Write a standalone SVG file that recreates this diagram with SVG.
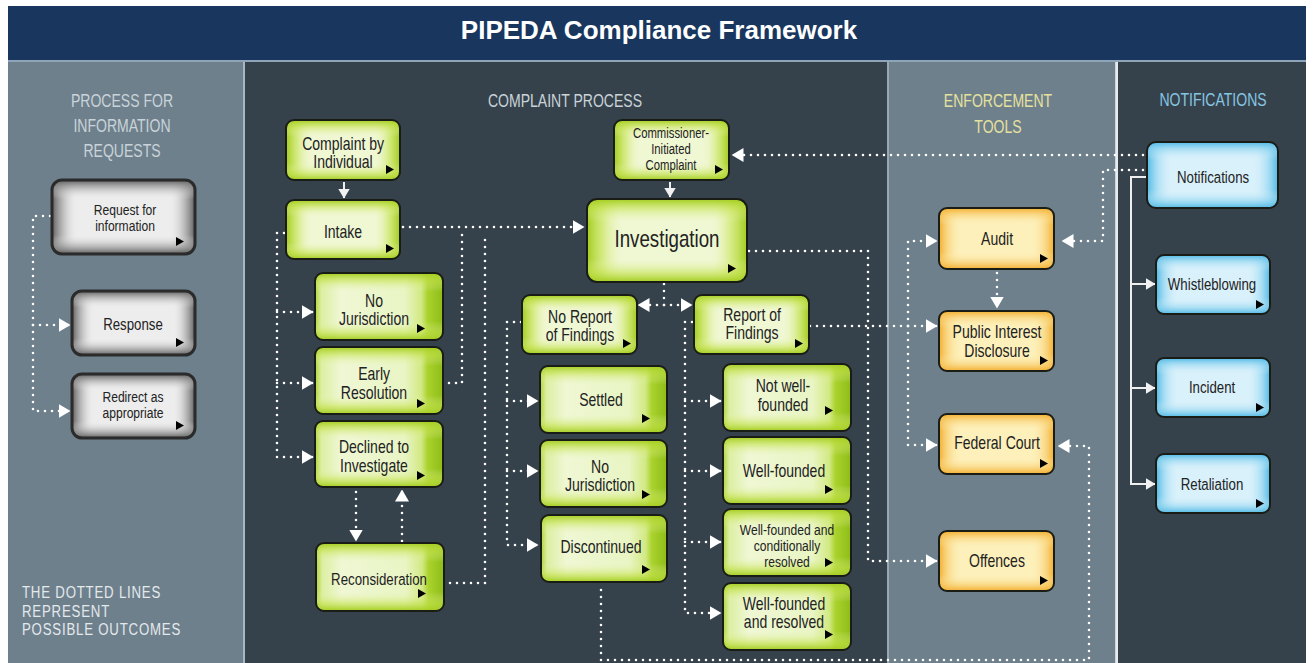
<svg xmlns="http://www.w3.org/2000/svg" xmlns:xlink="http://www.w3.org/1999/xlink" width="1313" height="663" viewBox="0 0 1313 663">
<defs>
<style>
.t{font-family:"Liberation Sans",Arial,sans-serif;font-size:18px;fill:#222;text-anchor:middle;transform-box:fill-box;transform-origin:50% 50%;transform:scaleX(0.78)}
.s14{font-size:14.5px}.s15{font-size:15.5px}.s16{font-size:17px}.s23{font-size:24px}
.hd{font-family:"Liberation Sans",Arial,sans-serif;font-size:18px;text-anchor:middle;fill:#c9d3d9;transform-box:fill-box;transform-origin:50% 50%;transform:scaleX(0.78)}
.note{font-family:"Liberation Sans",Arial,sans-serif;font-size:17px;fill:#e4e9ec;letter-spacing:1px;transform-box:fill-box;transform-origin:0% 50%;transform:scaleX(0.78)}
.title{font-family:"Liberation Sans",Arial,sans-serif;font-weight:bold;font-size:26px;fill:#fff;text-anchor:middle}
.dot{fill:none;stroke:#fff;stroke-width:2.6;stroke-dasharray:0 7;stroke-linecap:round;stroke-linejoin:round}
.da{marker-end:url(#ah)}
.sol{fill:none;stroke:#eef0f0;stroke-width:2}
.sa{marker-end:url(#ahs)}
.bd{fill:none;stroke:#1a1c16;stroke-width:2}
.bdg{fill:none;stroke:#2b2b2b;stroke-width:3}
.gb{fill:#eff7d3}.gh{fill:url(#gH)}.gv{fill:url(#gV)}.cy{fill:url(#cyH)}
.yb{fill:#ededed}.yh{fill:url(#yH)}.yv{fill:url(#yV)}
.ob{fill:#fdf0ba}.oh{fill:url(#oH)}.ov{fill:url(#oV)}
.bb{fill:#d9f1fb}.bh{fill:url(#bH)}.bv{fill:url(#bV)}
</style>
<marker id="ah" viewBox="0 0 12 14" markerWidth="12" markerHeight="14" refX="11.5" refY="7" orient="auto" markerUnits="userSpaceOnUse"><path d="M0,0 L12,7 L0,14 z" fill="#fff"/></marker>
<marker id="ahs" viewBox="0 0 10 12" markerWidth="10" markerHeight="12" refX="9.5" refY="6" orient="auto" markerUnits="userSpaceOnUse"><path d="M0,0 L10,6 L0,12 z" fill="#f2f2f2"/></marker>
<path id="tri" d="M0,0 L8,4.5 L0,9 z" fill="#000"/>
<linearGradient id="gH" x1="0" y1="0" x2="1" y2="0"><stop offset="0" stop-color="#a2cc1e"/><stop offset="0.1" stop-color="#c4e24e" stop-opacity="0.6"/><stop offset="0.22" stop-color="#e8f4b6" stop-opacity="0"/><stop offset="0.78" stop-color="#e8f4b6" stop-opacity="0"/><stop offset="0.9" stop-color="#c4e24e" stop-opacity="0.6"/><stop offset="1" stop-color="#a2cc1e"/></linearGradient>
<linearGradient id="gV" x1="0" y1="0" x2="0" y2="1"><stop offset="0" stop-color="#a2cc1e"/><stop offset="0.12" stop-color="#c4e24e" stop-opacity="0.55"/><stop offset="0.28" stop-color="#e8f4b6" stop-opacity="0"/><stop offset="0.72" stop-color="#e8f4b6" stop-opacity="0"/><stop offset="0.88" stop-color="#c4e24e" stop-opacity="0.55"/><stop offset="1" stop-color="#a2cc1e"/></linearGradient>
<linearGradient id="cyH" x1="0" y1="0" x2="1" y2="0"><stop offset="0" stop-color="#b0d43a"/><stop offset="0.05" stop-color="#dcefa2"/><stop offset="0.2" stop-color="#eff7d4"/><stop offset="0.7" stop-color="#e9f5c4"/><stop offset="0.83" stop-color="#d2e984"/><stop offset="0.88" stop-color="#aad22c"/><stop offset="1" stop-color="#8dbd18"/></linearGradient>
<linearGradient id="yH" x1="0" y1="0" x2="1" y2="0"><stop offset="0" stop-color="#5e5e5e"/><stop offset="0.08" stop-color="#a0a0a0" stop-opacity="0.6"/><stop offset="0.18" stop-color="#ededed" stop-opacity="0"/><stop offset="0.82" stop-color="#ededed" stop-opacity="0"/><stop offset="0.92" stop-color="#a0a0a0" stop-opacity="0.6"/><stop offset="1" stop-color="#5e5e5e"/></linearGradient>
<linearGradient id="yV" x1="0" y1="0" x2="0" y2="1"><stop offset="0" stop-color="#5e5e5e"/><stop offset="0.12" stop-color="#a0a0a0" stop-opacity="0.55"/><stop offset="0.26" stop-color="#ededed" stop-opacity="0"/><stop offset="0.74" stop-color="#ededed" stop-opacity="0"/><stop offset="0.88" stop-color="#a0a0a0" stop-opacity="0.55"/><stop offset="1" stop-color="#5e5e5e"/></linearGradient>
<linearGradient id="oH" x1="0" y1="0" x2="1" y2="0"><stop offset="0" stop-color="#f2ae2e"/><stop offset="0.08" stop-color="#f8cc6a" stop-opacity="0.6"/><stop offset="0.2" stop-color="#fdf0ba" stop-opacity="0"/><stop offset="0.8" stop-color="#fdf0ba" stop-opacity="0"/><stop offset="0.92" stop-color="#f8cc6a" stop-opacity="0.6"/><stop offset="1" stop-color="#f2ae2e"/></linearGradient>
<linearGradient id="oV" x1="0" y1="0" x2="0" y2="1"><stop offset="0" stop-color="#f2ae2e"/><stop offset="0.12" stop-color="#f8cc6a" stop-opacity="0.55"/><stop offset="0.28" stop-color="#fdf0ba" stop-opacity="0"/><stop offset="0.72" stop-color="#fdf0ba" stop-opacity="0"/><stop offset="0.88" stop-color="#f8cc6a" stop-opacity="0.55"/><stop offset="1" stop-color="#f2ae2e"/></linearGradient>
<linearGradient id="bH" x1="0" y1="0" x2="1" y2="0"><stop offset="0" stop-color="#4fb8e4"/><stop offset="0.08" stop-color="#8ed4f0" stop-opacity="0.6"/><stop offset="0.2" stop-color="#d9f1fb" stop-opacity="0"/><stop offset="0.8" stop-color="#d9f1fb" stop-opacity="0"/><stop offset="0.92" stop-color="#8ed4f0" stop-opacity="0.6"/><stop offset="1" stop-color="#4fb8e4"/></linearGradient>
<linearGradient id="bV" x1="0" y1="0" x2="0" y2="1"><stop offset="0" stop-color="#4fb8e4"/><stop offset="0.12" stop-color="#8ed4f0" stop-opacity="0.55"/><stop offset="0.28" stop-color="#d9f1fb" stop-opacity="0"/><stop offset="0.72" stop-color="#d9f1fb" stop-opacity="0"/><stop offset="0.88" stop-color="#8ed4f0" stop-opacity="0.55"/><stop offset="1" stop-color="#4fb8e4"/></linearGradient>
</defs>

<g id="background">
<rect x="0" y="0" width="1313" height="663" fill="#ffffff"/>
<rect x="8" y="6" width="1298" height="55" fill="#18365e"/>
<rect x="8" y="60" width="1298" height="2" fill="#8fa4b8"/>
<rect x="8" y="62" width="235" height="601" fill="#6e808c"/>
<rect x="243" y="62" width="2" height="601" fill="#a9b6be"/>
<rect x="245" y="62" width="642" height="601" fill="#36424b"/>
<rect x="887" y="62" width="1.5" height="601" fill="#97a6b0"/>
<rect x="888.5" y="62" width="227" height="601" fill="#6e808c"/>
<rect x="1115.5" y="62" width="2.5" height="601" fill="#e6ebee"/>
<rect x="1118" y="62" width="188" height="601" fill="#36424b"/>
</g>

<g id="labels">
<text class="title" x="659" y="39">PIPEDA Compliance Framework</text>
<text class="hd" x="122" y="107">PROCESS FOR</text>
<text class="hd" x="122" y="132">INFORMATION</text>
<text class="hd" x="122" y="157">REQUESTS</text>
<text class="hd" x="565" y="107">COMPLAINT PROCESS</text>
<text class="hd" x="998" y="107" style="fill:#e6e19e">ENFORCEMENT</text>
<text class="hd" x="998" y="133" style="fill:#e6e19e">TOOLS</text>
<text class="hd" x="1213" y="106" style="fill:#86c6e4">NOTIFICATIONS</text>
<text class="note" x="22" y="598">THE DOTTED LINES</text>
<text class="note" x="22" y="617">REPRESENT</text>
<text class="note" x="22" y="635">POSSIBLE OUTCOMES</text>
</g>

<g id="connectors">
<path class="dot da" d="M50,216 H33 V411 H70"/>
<path class="dot da" d="M33,325 H70"/>
<path class="dot da" d="M284,233 H277 V457 H313"/>
<path class="dot da" d="M277,312 H313"/>
<path class="dot da" d="M277,383 H313"/>
<path class="dot da" d="M403,227 H584"/>
<path class="dot" d="M449,383 H462 V234"/>
<path class="dot" d="M450,583 H485 V234"/>
<path class="dot da" d="M356,492 V541"/>
<path class="dot da" d="M402,541 V490"/>
<path class="dot da" d="M1143,155 H732"/>
<path class="dot da" d="M1143,170 H1103 V241 H1062"/>
<path class="dot" d="M664,284 V305"/>
<path class="dot da" d="M664,305 H638"/>
<path class="dot da" d="M664,305 H692"/>
<path class="dot da" d="M521,322 H507 V545 H538"/>
<path class="dot da" d="M507,401 H538"/>
<path class="dot da" d="M507,471 H538"/>
<path class="dot da" d="M692,322 H685 V613 H721"/>
<path class="dot da" d="M685,401 H721"/>
<path class="dot da" d="M685,471 H721"/>
<path class="dot da" d="M685,542 H721"/>
<path class="dot da" d="M749,251 H868 V561 H937"/>
<path class="dot da" d="M810,326 H937"/>
<path class="dot da" d="M908,326 V241 H937"/>
<path class="dot da" d="M908,326 V445 H937"/>
<path class="dot da" d="M997,273 V308"/>
<path class="dot da" d="M601,590 V660 H1089 V446 H1058"/>
<path class="sol sa" d="M344,182 V198"/>
<path class="sol sa" d="M670,182 V197"/>
<path class="sol sa" d="M1146,177 H1131 V484 H1155"/>
<path class="sol sa" d="M1131,284 H1155"/>
<path class="sol sa" d="M1131,388 H1155"/>
</g>

<g id="n-request" class="node">
<rect class="yb" x="52" y="180" width="143" height="74" rx="10"/><rect class="yh" x="52" y="180" width="143" height="74" rx="10"/><rect class="yv" x="52" y="180" width="143" height="74" rx="10"/><rect class="bdg" x="52" y="180" width="143" height="74" rx="10"/>
<use href="#tri" x="176" y="237"/>
<text class="t s15" x="125" y="215">Request for</text><text class="t s15" x="125" y="231">information</text>
</g>
<g id="n-response" class="node">
<rect class="yb" x="72" y="291" width="123" height="64" rx="10"/><rect class="yh" x="72" y="291" width="123" height="64" rx="10"/><rect class="yv" x="72" y="291" width="123" height="64" rx="10"/><rect class="bdg" x="72" y="291" width="123" height="64" rx="10"/>
<use href="#tri" x="176" y="338"/>
<text class="t s16" x="133" y="330">Response</text>
</g>
<g id="n-redirect" class="node">
<rect class="yb" x="72" y="374" width="123" height="64" rx="10"/><rect class="yh" x="72" y="374" width="123" height="64" rx="10"/><rect class="yv" x="72" y="374" width="123" height="64" rx="10"/><rect class="bdg" x="72" y="374" width="123" height="64" rx="10"/>
<use href="#tri" x="176" y="421"/>
<text class="t s15" x="133" y="402">Redirect as</text><text class="t s15" x="133" y="418">appropriate</text>
</g>

<g id="n-complaint" class="node">
<rect class="gb" x="286" y="120" width="114" height="60" rx="8"/><rect class="gh" x="286" y="120" width="114" height="60" rx="8"/><rect class="gv" x="286" y="120" width="114" height="60" rx="8"/><rect class="bd" x="286" y="120" width="114" height="60" rx="8"/>
<use href="#tri" x="386" y="165"/>
<text class="t" x="343" y="150">Complaint by</text><text class="t" x="343" y="168">Individual</text>
</g>
<g id="n-intake" class="node">
<rect class="gb" x="286" y="200" width="114" height="59" rx="8"/><rect class="gh" x="286" y="200" width="114" height="59" rx="8"/><rect class="gv" x="286" y="200" width="114" height="59" rx="8"/><rect class="bd" x="286" y="200" width="114" height="59" rx="8"/>
<use href="#tri" x="386" y="244"/>
<text class="t" x="343" y="238">Intake</text>
</g>
<g id="n-nojur1" class="node">
<rect class="cy" x="315" y="273" width="128" height="67" rx="8"/><rect class="gv" x="315" y="273" width="128" height="67" rx="8"/><rect class="bd" x="315" y="273" width="128" height="67" rx="8"/>
<use href="#tri" x="417" y="324"/>
<text class="t" x="374" y="307">No</text><text class="t" x="374" y="325">Jurisdiction</text>
</g>
<g id="n-early" class="node">
<rect class="cy" x="315" y="347" width="128" height="67" rx="8"/><rect class="gv" x="315" y="347" width="128" height="67" rx="8"/><rect class="bd" x="315" y="347" width="128" height="67" rx="8"/>
<use href="#tri" x="417" y="399"/>
<text class="t" x="374" y="380">Early</text><text class="t" x="374" y="399">Resolution</text>
</g>
<g id="n-declined" class="node">
<rect class="cy" x="315" y="421" width="128" height="66" rx="8"/><rect class="gv" x="315" y="421" width="128" height="66" rx="8"/><rect class="bd" x="315" y="421" width="128" height="66" rx="8"/>
<use href="#tri" x="417" y="471"/>
<text class="t" x="374" y="453">Declined to</text><text class="t" x="374" y="472">Investigate</text>
</g>
<g id="n-recon" class="node">
<rect class="cy" x="316" y="543" width="128" height="68" rx="8"/><rect class="gv" x="316" y="543" width="128" height="68" rx="8"/><rect class="bd" x="316" y="543" width="128" height="68" rx="8"/>
<use href="#tri" x="418" y="589"/>
<text class="t s16" x="379" y="585">Reconsideration</text>
</g>
<g id="n-commissioner" class="node">
<rect class="gb" x="614" y="120" width="115" height="60" rx="8"/><rect class="gh" x="614" y="120" width="115" height="60" rx="8"/><rect class="gv" x="614" y="120" width="115" height="60" rx="8"/><rect class="bd" x="614" y="120" width="115" height="60" rx="8"/>
<use href="#tri" x="715" y="165"/>
<text class="t s14" x="671" y="138">Commissioner-</text><text class="t s14" x="671" y="154">Initiated</text><text class="t s14" x="671" y="170">Complaint</text>
</g>
<g id="n-investigation" class="node">
<rect class="gb" x="587" y="199" width="160" height="83" rx="10"/><rect class="gh" x="587" y="199" width="160" height="83" rx="10"/><rect class="gv" x="587" y="199" width="160" height="83" rx="10"/><rect class="bd" x="587" y="199" width="160" height="83" rx="10"/>
<use href="#tri" x="728" y="264"/>
<text class="t s23" x="667" y="247">Investigation</text>
</g>
<g id="n-noreport" class="node">
<rect class="gb" x="522" y="295" width="115" height="59" rx="8"/><rect class="gh" x="522" y="295" width="115" height="59" rx="8"/><rect class="gv" x="522" y="295" width="115" height="59" rx="8"/><rect class="bd" x="522" y="295" width="115" height="59" rx="8"/>
<use href="#tri" x="623" y="339"/>
<text class="t" x="580" y="323">No Report</text><text class="t" x="580" y="341">of Findings</text>
</g>
<g id="n-report" class="node">
<rect class="gb" x="694" y="295" width="115" height="59" rx="8"/><rect class="gh" x="694" y="295" width="115" height="59" rx="8"/><rect class="gv" x="694" y="295" width="115" height="59" rx="8"/><rect class="bd" x="694" y="295" width="115" height="59" rx="8"/>
<use href="#tri" x="795" y="339"/>
<text class="t" x="752" y="321">Report of</text><text class="t" x="752" y="339">Findings</text>
</g>
<g id="n-settled" class="node">
<rect class="cy" x="540" y="366" width="127" height="67" rx="8"/><rect class="gv" x="540" y="366" width="127" height="67" rx="8"/><rect class="bd" x="540" y="366" width="127" height="67" rx="8"/>
<use href="#tri" x="642" y="414"/>
<text class="t" x="601" y="406">Settled</text>
</g>
<g id="n-nojur2" class="node">
<rect class="cy" x="540" y="440" width="127" height="67" rx="8"/><rect class="gv" x="540" y="440" width="127" height="67" rx="8"/><rect class="bd" x="540" y="440" width="127" height="67" rx="8"/>
<use href="#tri" x="642" y="490"/>
<text class="t" x="600" y="473">No</text><text class="t" x="600" y="491">Jurisdiction</text>
</g>
<g id="n-discontinued" class="node">
<rect class="cy" x="541" y="515" width="126" height="67" rx="8"/><rect class="gv" x="541" y="515" width="126" height="67" rx="8"/><rect class="bd" x="541" y="515" width="126" height="67" rx="8"/>
<use href="#tri" x="642" y="565"/>
<text class="t" x="601" y="553">Discontinued</text>
</g>
<g id="n-notwell" class="node">
<rect class="cy" x="723" y="364" width="128" height="67" rx="8"/><rect class="gv" x="723" y="364" width="128" height="67" rx="8"/><rect class="bd" x="723" y="364" width="128" height="67" rx="8"/>
<use href="#tri" x="825" y="406"/>
<text class="t" x="783" y="392">Not well-</text><text class="t" x="783" y="411">founded</text>
</g>
<g id="n-wellfounded" class="node">
<rect class="cy" x="723" y="437" width="128" height="67" rx="8"/><rect class="gv" x="723" y="437" width="128" height="67" rx="8"/><rect class="bd" x="723" y="437" width="128" height="67" rx="8"/>
<use href="#tri" x="825" y="485"/>
<text class="t" x="784" y="477">Well-founded</text>
</g>
<g id="n-wfcond" class="node">
<rect class="cy" x="723" y="509" width="128" height="67" rx="8"/><rect class="gv" x="723" y="509" width="128" height="67" rx="8"/><rect class="bd" x="723" y="509" width="128" height="67" rx="8"/>
<use href="#tri" x="825" y="558"/>
<text class="t s15" x="787" y="535">Well-founded and</text><text class="t s15" x="787" y="551">conditionally</text><text class="t s15" x="787" y="567">resolved</text>
</g>
<g id="n-wfres" class="node">
<rect class="cy" x="723" y="583" width="128" height="67" rx="8"/><rect class="gv" x="723" y="583" width="128" height="67" rx="8"/><rect class="bd" x="723" y="583" width="128" height="67" rx="8"/>
<use href="#tri" x="825" y="630"/>
<text class="t" x="784" y="610">Well-founded</text><text class="t" x="784" y="628">and resolved</text>
</g>

<g id="n-audit" class="node">
<rect class="ob" x="939" y="208" width="115" height="61" rx="8"/><rect class="oh" x="939" y="208" width="115" height="61" rx="8"/><rect class="ov" x="939" y="208" width="115" height="61" rx="8"/><rect class="bd" x="939" y="208" width="115" height="61" rx="8"/>
<use href="#tri" x="1040" y="254"/>
<text class="t" x="997" y="245">Audit</text>
</g>
<g id="n-public" class="node">
<rect class="ob" x="939" y="311" width="115" height="60" rx="8"/><rect class="oh" x="939" y="311" width="115" height="60" rx="8"/><rect class="ov" x="939" y="311" width="115" height="60" rx="8"/><rect class="bd" x="939" y="311" width="115" height="60" rx="8"/>
<use href="#tri" x="1040" y="356"/>
<text class="t" x="997" y="338">Public Interest</text><text class="t" x="997" y="357">Disclosure</text>
</g>
<g id="n-federal" class="node">
<rect class="ob" x="939" y="414" width="115" height="60" rx="8"/><rect class="oh" x="939" y="414" width="115" height="60" rx="8"/><rect class="ov" x="939" y="414" width="115" height="60" rx="8"/><rect class="bd" x="939" y="414" width="115" height="60" rx="8"/>
<use href="#tri" x="1040" y="459"/>
<text class="t" x="997" y="449">Federal Court</text>
</g>
<g id="n-offences" class="node">
<rect class="ob" x="939" y="531" width="115" height="60" rx="8"/><rect class="oh" x="939" y="531" width="115" height="60" rx="8"/><rect class="ov" x="939" y="531" width="115" height="60" rx="8"/><rect class="bd" x="939" y="531" width="115" height="60" rx="8"/>
<use href="#tri" x="1040" y="576"/>
<text class="t" x="997" y="567">Offences</text>
</g>

<g id="n-notifications" class="node">
<rect class="bb" x="1147" y="142" width="131" height="66" rx="9"/><rect class="bh" x="1147" y="142" width="131" height="66" rx="9"/><rect class="bv" x="1147" y="142" width="131" height="66" rx="9"/><rect class="bd" x="1147" y="142" width="131" height="66" rx="9"/>
<text class="t s16" x="1213" y="183">Notifications</text>
</g>
<g id="n-whistle" class="node">
<rect class="bb" x="1156" y="255" width="114" height="59" rx="8"/><rect class="bh" x="1156" y="255" width="114" height="59" rx="8"/><rect class="bv" x="1156" y="255" width="114" height="59" rx="8"/><rect class="bd" x="1156" y="255" width="114" height="59" rx="8"/>
<use href="#tri" x="1256" y="300"/>
<text class="t s16" x="1212" y="290">Whistleblowing</text>
</g>
<g id="n-incident" class="node">
<rect class="bb" x="1156" y="358" width="114" height="59" rx="8"/><rect class="bh" x="1156" y="358" width="114" height="59" rx="8"/><rect class="bv" x="1156" y="358" width="114" height="59" rx="8"/><rect class="bd" x="1156" y="358" width="114" height="59" rx="8"/>
<use href="#tri" x="1256" y="403"/>
<text class="t s16" x="1212" y="393">Incident</text>
</g>
<g id="n-retaliation" class="node">
<rect class="bb" x="1156" y="454" width="114" height="59" rx="8"/><rect class="bh" x="1156" y="454" width="114" height="59" rx="8"/><rect class="bv" x="1156" y="454" width="114" height="59" rx="8"/><rect class="bd" x="1156" y="454" width="114" height="59" rx="8"/>
<use href="#tri" x="1256" y="499"/>
<text class="t s16" x="1212" y="490">Retaliation</text>
</g>
</svg>
